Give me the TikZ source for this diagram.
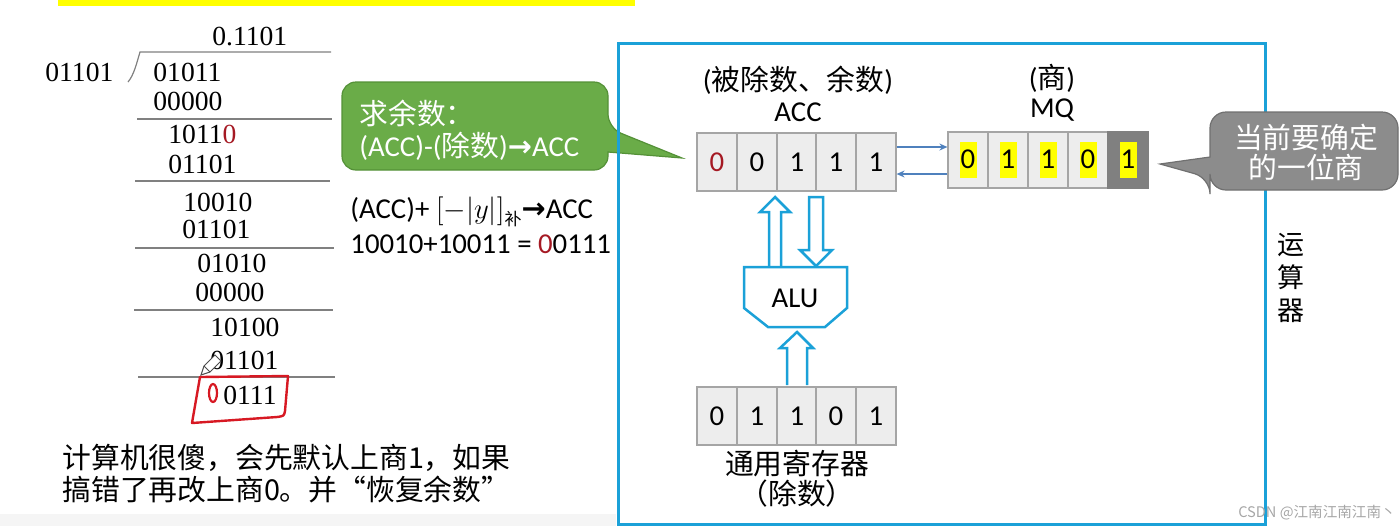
\documentclass[tikz,border=0pt]{standalone}
\usepackage{fontspec}
\setmainfont{Liberation Serif}
\newfontfamily\lat{Carlito}
\newfontfamily\cjk{Noto Sans CJK SC}
\newfontfamily\dvs{DejaVu Sans}
\usetikzlibrary{arrows.meta}
\definecolor{accblue}{RGB}{27,161,216}
\definecolor{callgreen}{RGB}{106,172,72}
\definecolor{callgreenD}{RGB}{84,145,55}
\definecolor{callgray}{RGB}{140,140,140}
\definecolor{callgrayD}{RGB}{112,112,112}
\definecolor{darkred}{RGB}{165,25,35}
\definecolor{cellfill}{RGB}{237,237,237}
\definecolor{cellline}{RGB}{165,165,165}
\definecolor{cellgray}{RGB}{128,128,128}
\definecolor{linkblue}{RGB}{79,129,189}
\definecolor{divline}{RGB}{128,128,128}
\definecolor{penred}{RGB}{215,25,35}
\definecolor{hlyellow}{RGB}{255,255,0}
\newcommand\myarr{{\dvs\bfseries\char"2192}}
\newcommand\mqhl[1]{{\setlength\fboxsep{0.6pt}\colorbox{hlyellow}{\rule[-4.5pt]{0pt}{17pt}#1}}}
\tikzset{
  num/.style={font=\fontsize{13.8}{16}\selectfont, inner sep=0, anchor=west},
  sans/.style={font=\lat\fontsize{14.4}{17}\selectfont, inner sep=0},
  cjktext/.style={font=\cjk\fontsize{14.4}{17}\selectfont, inner sep=0},
  divrule/.style={draw=divline, line width=0.6pt},
  cell/.style={draw=cellline, fill=cellfill, minimum width=20pt, minimum height=29pt, inner sep=0, line width=0.6pt, font=\lat\fontsize{14.4}{17}\selectfont},
  mqcell/.style={cell, minimum height=28pt},
  blockarrow/.style={draw=accblue, fill=white, line width=1.25pt, line join=miter},
  link/.style={draw=linkblue, line width=0.7pt, -{Stealth[length=4pt,width=3.5pt]}},
}
\begin{document}
\begin{tikzpicture}[x=0.5pt,y=-0.5pt]
\useasboundingbox (0,0) rectangle (1400,526);
% top highlight strip and bottom band
\fill[hlyellow] (58,0) rectangle (635,6);
\fill[black!4] (0,514) rectangle (616,526);

% ---------------- long division ----------------
\node[num] (quot) at (212,37) {0.1101};
\node[num] (divisor) at (45,72) {01101};
\draw[divrule] (128,82) .. controls (134,75) and (137,62) .. (140,52) -- (331,52);
\node[num] (r1) at (153,72) {01011};
\node[num] (r2) at (153,101) {00000};
\draw[divrule] (137,119) -- (332,119);
\node[num] (r3) at (168,134) {1011\textcolor{darkred}{0}};
\node[num] (r4) at (168,164) {01101};
\draw[divrule] (135,181) -- (330,181);
\node[num] (r5) at (183,202) {10010};
\node[num] (r6) at (182,229) {01101};
\draw[divrule] (135,248) -- (334,248);
\node[num] (r7) at (197,263) {01010};
\node[num] (r8) at (195,292) {00000};
\draw[divrule] (134,310) -- (333,310);
\node[num] (r9) at (210,327) {10100};
\node[num] (r10) at (210,360) {01101};
\draw[divrule] (138,377) -- (335,377);
\node[num] (r11) at (223,395) {0111};
% pencil cursor
\draw[black!70, fill=white, line width=0.5pt] (201,375) -- (204,366) -- (215,355) -- (221,361) -- (210,372) -- cycle;
\draw[black!70, line width=0.5pt] (204,366) -- (210,372);
% handwritten red annotations
\draw[penred, line width=1.1pt] (213,393) ellipse (4 and 9);
\draw[penred, line width=1.2pt, line join=round] (200,377) -- (288,376) -- (285,411) .. controls (284,416) .. (277,417) -- (192,423) -- cycle;

% bottom remark
\node[cjktext, anchor=west] (note1) at (62,458) {计算机很傻，会先默认上商1，如果};
\node[cjktext, anchor=west] (note2) at (62,489) {搞错了再改上商0。并“恢复余数”};

% ---------------- green callout ----------------
\draw[draw=callgreenD, fill=callgreen, line width=0.6pt, rounded corners=7pt]
  (342,82) -- (608,82) -- (608,128) [sharp corners] -- (682,158) -- (608,152) [rounded corners=7pt] -- (608,170) -- (342,170) -- cycle;
\node[sans, anchor=west, text=white] (g1) at (359,113) {\cjk 求余数：};
\node[sans, anchor=west, text=white] (g2) at (359,146) {(ACC)-({\cjk 除数})\myarr ACC};

\node[sans, anchor=west] (f1) at (350,212) {(ACC)+ \fontsize{14.4}{17}\selectfont$[-|y|]$\raisebox{-3.5pt}{\cjk\fontsize{8.5}{9}\selectfont 补}\myarr ACC};
\node[sans, anchor=west] (f2) at (350,244) {10010+10011 = \textcolor{darkred}{0}0111};

% ---------------- arithmetic unit box ----------------
\draw[accblue, line width=1.5pt] (618,43) rectangle (1265,524);
\node[sans] (acclab1) at (798,80) {({\cjk 被除数、余数})};
\node[sans] (acclab2) at (798,112) {ACC};
\node[sans] (mqlab1) at (1052,78) {({\cjk 商})};
\node[sans] (mqlab2) at (1052,110) {MQ};

% ACC register
\node[cell] (acc1) at (717,162) {\textcolor{darkred}{0}};
\node[cell] (acc2) at (757,162) {0};
\node[cell] (acc3) at (797,162) {1};
\node[cell] (acc4) at (836,162) {1};
\node[cell] (acc5) at (876,162) {1};
% MQ register
\node[mqcell] (mq1) at (968,160) {\mqhl{0}};
\node[mqcell] (mq2) at (1008,160) {\mqhl{1}};
\node[mqcell] (mq3) at (1048,160) {\mqhl{1}};
\node[mqcell] (mq4) at (1088,160) {\mqhl{0}};
\node[mqcell, fill=cellgray, draw=cellgray] (mq5) at (1128,160) {\mqhl{1}};
% links ACC <-> MQ
\draw[link] ([yshift=7.5pt]acc5.east) -- ([yshift=6.5pt]mq1.west);
\draw[link] ([yshift=-7pt]mq1.west) -- ([yshift=-6pt]acc5.east);

% gray callout
\draw[draw=callgrayD, fill=callgray, line width=0.6pt, rounded corners=8pt]
  (1210,112) -- (1398,112) -- (1398,190) -- (1210,190) -- (1210,178) [sharp corners] -- (1160,164) -- (1210,157) [rounded corners=8pt] -- cycle;
\node[cjktext, text=white] (cur1) at (1306,137) {当前要确定};
\node[cjktext, text=white] (cur2) at (1306,167) {的一位商};

% block arrows and ALU
\draw[blockarrow] (769,267) -- (769,212) -- (760,212) -- (775,197) -- (790,212) -- (781,212) -- (781,267);
\draw[blockarrow] (809,197) -- (823,197) -- (823,250) -- (832,250) -- (816,266) -- (800,250) -- (809,250) -- cycle;
\draw[blockarrow] (744,267) -- (847,267) -- (847,308) -- (825,327) -- (768,327) -- (744,308) -- cycle;
\node[sans] (alu) at (795,298) {ALU};
\draw[blockarrow] (787,385) -- (787,348) -- (780,348) -- (797,332) -- (813,348) -- (807,348) -- (807,385);

% general register
\node[cell] (gr1) at (717,416) {0};
\node[cell] (gr2) at (757,416) {1};
\node[cell] (gr3) at (797,416) {1};
\node[cell] (gr4) at (836,416) {0};
\node[cell] (gr5) at (876,416) {1};
\node[cjktext] (grlab1) at (797,464) {通用寄存器};
\node[cjktext] (grlab2) at (797,494) {（除数）};

% side label
\node[font=\cjk\fontsize{13.5}{16.5}\selectfont, align=center, inner sep=0] (unit) at (1291,278) {运\\算\\器};

% watermark
\node[font=\cjk\fontsize{7.3}{8}\selectfont, text=black!35, inner sep=0] (wm) at (1317,513) {CSDN @江南江南江南丶};
\end{tikzpicture}
\end{document}
